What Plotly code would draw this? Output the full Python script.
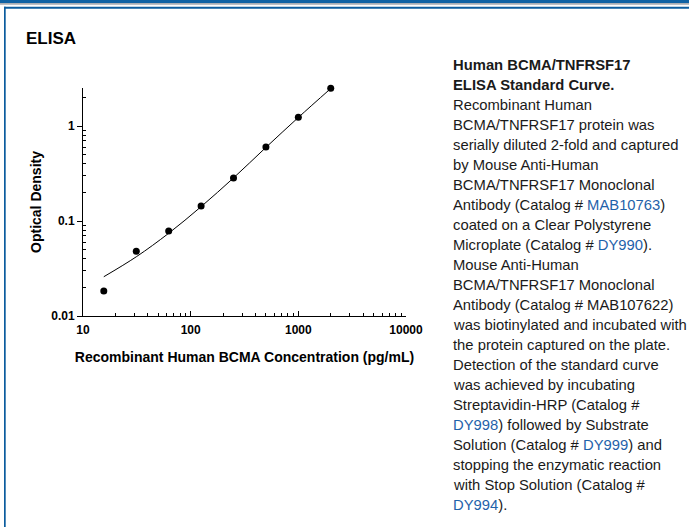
import plotly.graph_objects as go

# ---- data ----
conc_pg_ml = [15.6, 31.25, 62.5, 125, 250, 500, 1000, 2000]
od_measured = [0.0183, 0.048, 0.0785, 0.144, 0.284, 0.60, 1.235, 2.49]
curve_conc = [15.6, 31.25, 62.5, 125, 250, 500, 1000, 2000]
curve_od = [0.0259, 0.042, 0.0743, 0.1416, 0.284, 0.595, 1.23, 2.48]

x_tickvals = [10, 100, 1000, 10000]
x_ticktext = ["10", "100", "1000", "10000"]
y_tickvals = [0.01, 0.1, 1]
y_ticktext = ["0.01", "0.1", "1"]
x_minor = [m * d for d in (10, 100, 1000) for m in range(2, 10)]
y_minor = [m * d for d in (0.01, 0.1) for m in range(2, 10)] + [2]

LINK = "#1f62aa"


def link(t):
    return f"<span style='color:{LINK}'>{t}</span>"


desc_lines = [
    "<b>Human BCMA/TNFRSF17</b>",
    "<b>ELISA Standard Curve.</b>",
    "Recombinant Human",
    "BCMA/TNFRSF17 protein was",
    "serially diluted 2-fold and captured",
    "by Mouse Anti-Human",
    "BCMA/TNFRSF17 Monoclonal",
    "Antibody (Catalog # " + link("MAB10763") + ")",
    "coated on a Clear Polystyrene",
    "Microplate (Catalog # " + link("DY990") + ").",
    "Mouse Anti-Human",
    "BCMA/TNFRSF17 Monoclonal",
    "Antibody (Catalog # MAB107622)",
    "was biotinylated and incubated with",
    "the protein captured on the plate.",
    "Detection of the standard curve",
    "was achieved by incubating",
    "Streptavidin-HRP (Catalog #",
    link("DY998") + ") followed by Substrate",
    "Solution (Catalog # " + link("DY999") + ") and",
    "stopping the enzymatic reaction",
    "with Stop Solution (Catalog #",
    link("DY994") + ").",
]

W, H = 689, 527
FONT = "Liberation Sans, Arial, sans-serif"

Y_TOP = 0.40  # log10 of axis top
PLOT_TOP = 316 - (Y_TOP + 2) * 95


def px(x):
    return x / W


def py(y):
    return 1 - y / H


fig = go.Figure()
fig.add_trace(go.Scatter(
    x=curve_conc, y=curve_od, mode="lines", line=dict(color="black", width=1, shape="spline"),
    hoverinfo="skip", showlegend=False, cliponaxis=False))
fig.add_trace(go.Scatter(
    x=conc_pg_ml, y=od_measured, mode="markers", marker=dict(color="black", size=7),
    showlegend=False, cliponaxis=False))

axis_common = dict(
    type="log", showgrid=False, zeroline=False, showline=True, linecolor="black", linewidth=1,
    tickfont=dict(family=FONT, size=12, color="black", weight="bold"),
    tickcolor="black", tickwidth=1, automargin=False,
)
fig.update_xaxes(
    **axis_common, range=[1, 4], domain=[px(83), px(406)],
    tickmode="array", tickvals=x_tickvals, ticktext=x_ticktext, ticks="inside", ticklen=5,
    ticklabelstandoff=3,
    minor=dict(tickmode="array", tickvals=x_minor, ticks="inside", ticklen=3, tickcolor="black"),
    title=dict(text="<b>Recombinant Human BCMA Concentration (pg/mL)</b>",
               font=dict(family=FONT, size=14, color="black"), standoff=15),
)
fig.update_yaxes(
    **axis_common, range=[-2, Y_TOP], domain=[py(316), py(PLOT_TOP)],
    tickmode="array", tickvals=y_tickvals, ticktext=y_ticktext, ticks="outside", ticklen=5,
    minor=dict(tickmode="array", tickvals=y_minor, ticks="inside", ticklen=3, tickcolor="black"),
    title=dict(text="<b>Optical Density</b>", font=dict(family=FONT, size=14, color="black"), standoff=6),
)

shapes = [
    dict(type="rect", xref="paper", yref="paper", x0=0, x1=1, y0=py(3), y1=1,
         fillcolor="#0f62a4", line=dict(width=0)),
    dict(type="rect", xref="paper", yref="paper", x0=0, x1=1, y0=py(4.7), y1=py(3),
         fillcolor="#a9adb3", line=dict(width=0)),
    dict(type="rect", xref="paper", yref="paper", x0=px(4), x1=1, y0=py(8.7), y1=py(6.7),
         fillcolor="#0b5c9e", line=dict(width=0)),
    dict(type="rect", xref="paper", yref="paper", x0=px(4), x1=px(5.7), y0=0, y1=py(6.7),
         fillcolor="#0b5c9e", line=dict(width=0)),
]

annotations = [dict(
    text="<b>ELISA</b>", xref="paper", yref="paper", x=px(23.5), y=py(38.3),
    xanchor="left", yanchor="middle", showarrow=False,
    font=dict(family=FONT, size=17, color="black"))]

for i, line in enumerate(desc_lines):
    baseline = 70.7 + 20.0 * i
    annotations.append(dict(
        text=line, xref="paper", yref="paper", x=px(451), y=py(baseline - 5.3),
        xanchor="left", yanchor="middle", showarrow=False,
        font=dict(family=FONT, size=14.8, color="#1a1a1a")))

fig.update_layout(
    width=W, height=H, margin=dict(l=0, r=0, t=0, b=0, autoexpand=False),
    paper_bgcolor="white", plot_bgcolor="white",
    shapes=shapes, annotations=annotations, showlegend=False,
    font=dict(family=FONT),
)

fig.write_html("out.html", config={"displayModeBar": False},
               post_script="document.body.style.margin='0px';")
